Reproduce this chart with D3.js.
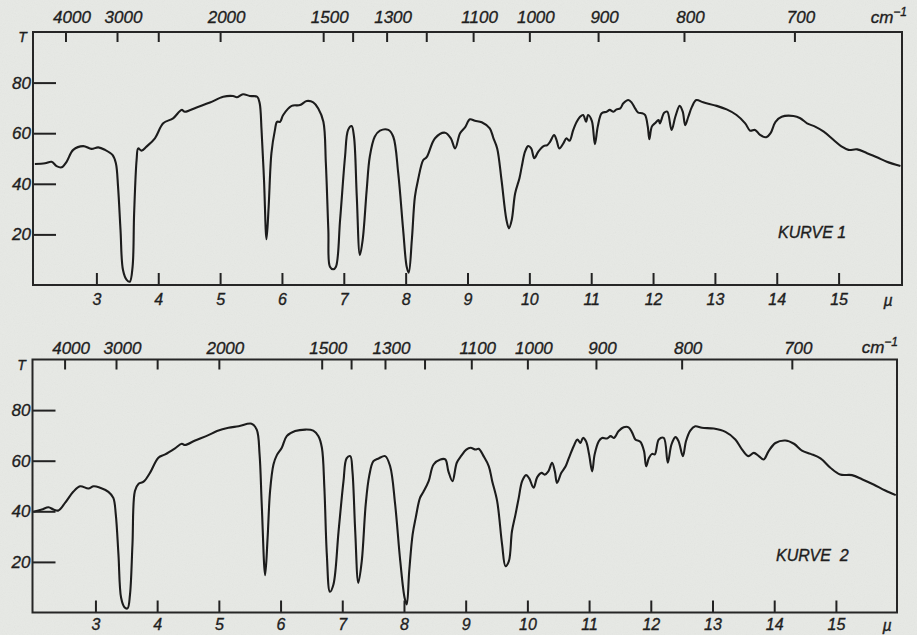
<!DOCTYPE html>
<html>
<head>
<meta charset="utf-8">
<script src="https://cdn.jsdelivr.net/npm/d3@7"></script>
<style>
  html, body { margin: 0; padding: 0; background: #e7e9e5; }
  svg { display: block; }
  .lbl { font-family: "Liberation Sans", Arial, sans-serif; font-style: italic; fill: #1e1e1e; stroke: #1e1e1e; stroke-width: 0.35px; }
</style>
</head>
<body>
<svg id="chart" width="917" height="635"></svg>
<script>
// Axis ticks
const wavelengthTicks = [3, 4, 5, 6, 7, 8, 9, 10, 11, 12, 13, 14, 15];
const wavenumberTicks = [4000, 3000, 2500, 2000, 1500, 1400, 1300, 1200, 1100, 1000, 900, 800, 700];
const wavenumberLabels = [4000, 3000, 2000, 1500, 1300, 1100, 1000, 900, 800, 700];
const transmissionTicks = [20, 40, 60, 80];
const curveNames = ["KURVE 1", "KURVE  2"];

// Curve 1: wavelength (µ) and transmission (%)
const curve1Wavelength = [2.005, 2.17, 2.275, 2.356, 2.437, 2.518, 2.625, 2.787, 2.92, 3.03, 3.14, 3.26, 3.315, 3.35, 3.39, 3.43, 3.49, 3.54, 3.585, 3.61, 3.65, 3.676, 3.73, 3.81, 3.946, 4.08, 4.24, 4.378, 4.43, 4.62, 4.836, 5.05, 5.21, 5.27, 5.37, 5.48, 5.6, 5.64, 5.67, 5.71, 5.75, 5.785, 5.83, 5.887, 5.92, 5.97, 6.02, 6.157, 6.29, 6.4, 6.506, 6.587, 6.67, 6.71, 6.75, 6.776, 6.83, 6.873, 6.94, 7.02, 7.07, 7.127, 7.165, 7.21, 7.26, 7.305, 7.37, 7.42, 7.5, 7.585, 7.72, 7.8, 7.88, 7.96, 8.017, 8.05, 8.1, 8.15, 8.2, 8.285, 8.34, 8.475, 8.636, 8.73, 8.8, 8.88, 8.96, 9.04, 9.12, 9.23, 9.36, 9.42, 9.48, 9.55, 9.63, 9.67, 9.715, 9.77, 9.84, 9.877, 9.93, 9.98, 10.03, 10.08, 10.145, 10.23, 10.29, 10.335, 10.4, 10.44, 10.485, 10.55, 10.6, 10.65, 10.71, 10.766, 10.82, 10.87, 10.917, 10.95, 11.01, 11.06, 11.106, 11.17, 11.25, 11.3, 11.36, 11.41, 11.47, 11.52, 11.6, 11.655, 11.71, 11.76, 11.82, 11.87, 11.915, 11.94, 11.98, 12.03, 12.09, 12.11, 12.18, 12.23, 12.3, 12.36, 12.43, 12.48, 12.52, 12.57, 12.63, 12.7, 12.81, 13.03, 13.19, 13.35, 13.49, 13.57, 13.65, 13.73, 13.83, 13.9, 13.98, 14.08, 14.27, 14.38, 14.49, 14.62, 14.76, 14.92, 15.05, 15.16, 15.3, 15.46, 15.62, 15.78, 16.0];
const curve1Transmission = [47.8, 48.1, 48.7, 47.0, 46.5, 48.7, 53.4, 54.9, 53.8, 54.4, 53.4, 51.4, 48.1, 38.9, 21.7, 5.9, 2.0, 1.3, 7.2, 28.3, 49.4, 54.0, 53.1, 54.7, 58.0, 63.9, 65.9, 69.2, 68.5, 70.2, 72.1, 74.4, 74.7, 74.2, 75.4, 74.7, 74.4, 71.8, 61.3, 41.5, 18.1, 30.9, 52.1, 61.3, 64.5, 64.5, 67.2, 70.8, 71.1, 72.7, 72.2, 69.8, 64.5, 48.1, 21.7, 7.2, 6.2, 7.2, 25.7, 50.7, 61.3, 62.8, 58.6, 34.9, 11.9, 17.8, 37.5, 50.7, 58.6, 61.0, 61.3, 58.6, 44.2, 21.7, 7.2, 4.9, 17.8, 34.9, 41.5, 49.4, 50.5, 58.0, 60.2, 58.0, 54.0, 60.0, 62.3, 65.5, 64.9, 64.3, 61.9, 58.0, 54.0, 41.5, 25.7, 22.4, 25.7, 36.2, 42.2, 46.8, 52.7, 54.9, 54.0, 50.1, 52.7, 54.9, 55.3, 56.6, 59.3, 57.3, 54.0, 56.0, 58.0, 57.0, 61.3, 64.5, 66.5, 67.2, 64.5, 67.2, 64.9, 55.7, 62.6, 67.9, 68.5, 69.2, 68.5, 69.4, 69.8, 71.8, 73.1, 72.1, 69.8, 68.1, 67.9, 67.2, 62.6, 57.6, 62.6, 63.9, 65.2, 63.9, 68.1, 68.5, 61.3, 66.5, 70.8, 68.5, 63.2, 66.5, 70.5, 73.1, 72.2, 70.8, 69.4, 67.2, 63.9, 61.0, 61.3, 59.3, 58.4, 60.0, 64.5, 66.5, 66.8, 65.9, 63.9, 62.6, 60.6, 57.3, 54.7, 53.4, 53.6, 52.1, 50.5, 48.7, 47.0];

// Curve 2: wavelength (µ) and transmission (%)
const curve2Wavelength = [1.995, 2.13, 2.24, 2.32, 2.4, 2.51, 2.64, 2.75, 2.887, 2.97, 3.076, 3.21, 3.29, 3.33, 3.373, 3.416, 3.47, 3.52, 3.56, 3.6, 3.64, 3.7, 3.78, 3.886, 4.02, 4.13, 4.29, 4.4, 4.45, 4.616, 4.83, 4.97, 5.156, 5.32, 5.53, 5.614, 5.66, 5.695, 5.75, 5.79, 5.83, 5.885, 5.94, 6.02, 6.1, 6.236, 6.4, 6.53, 6.614, 6.67, 6.71, 6.75, 6.8, 6.857, 6.94, 7.02, 7.07, 7.13, 7.165, 7.21, 7.26, 7.316, 7.38, 7.436, 7.505, 7.59, 7.695, 7.776, 7.857, 7.94, 8.01, 8.045, 8.085, 8.14, 8.19, 8.26, 8.316, 8.4, 8.48, 8.59, 8.67, 8.72, 8.786, 8.856, 8.93, 9.01, 9.08, 9.16, 9.21, 9.29, 9.375, 9.43, 9.51, 9.59, 9.645, 9.7, 9.75, 9.807, 9.86, 9.915, 9.98, 10.03, 10.1, 10.16, 10.23, 10.28, 10.34, 10.4, 10.445, 10.48, 10.55, 10.62, 10.67, 10.75, 10.81, 10.86, 10.9, 10.95, 11.0, 11.05, 11.09, 11.157, 11.21, 11.29, 11.35, 11.4, 11.48, 11.56, 11.64, 11.7, 11.75, 11.83, 11.89, 11.925, 11.97, 12.02, 12.065, 12.13, 12.21, 12.275, 12.335, 12.4, 12.45, 12.52, 12.57, 12.64, 12.72, 12.83, 13.02, 13.21, 13.37, 13.48, 13.58, 13.67, 13.75, 13.83, 13.91, 14.02, 14.18, 14.32, 14.45, 14.59, 14.75, 14.91, 15.07, 15.26, 15.43, 15.61, 15.8, 15.97];
const curve2Transmission = [39.8, 40.7, 41.6, 40.7, 40.3, 43.4, 47.7, 49.9, 49.0, 49.9, 49.3, 47.7, 45.3, 38.7, 22.9, 5.8, 2.1, 1.6, 7.1, 26.9, 48.0, 50.9, 51.7, 55.3, 61.2, 62.5, 64.9, 66.7, 66.2, 68.0, 70.1, 71.7, 73.0, 73.6, 74.6, 72.3, 62.5, 42.7, 14.7, 29.5, 48.0, 58.5, 62.2, 65.1, 69.7, 71.7, 72.3, 71.9, 69.7, 65.1, 49.3, 22.9, 8.2, 11.1, 32.1, 51.9, 60.9, 61.8, 55.8, 32.1, 11.7, 20.3, 42.7, 53.9, 59.8, 60.9, 61.8, 57.8, 42.7, 20.3, 5.8, 3.2, 16.3, 30.8, 37.4, 45.3, 47.7, 51.9, 58.5, 60.5, 60.5, 55.8, 51.9, 59.2, 62.0, 64.4, 65.1, 64.4, 64.7, 61.8, 57.8, 51.9, 44.0, 26.9, 18.3, 20.3, 32.1, 38.7, 45.3, 51.9, 54.3, 53.0, 49.3, 53.5, 55.2, 54.5, 55.8, 59.2, 55.8, 51.2, 55.2, 57.8, 60.9, 65.7, 68.4, 67.0, 69.0, 67.7, 62.5, 55.8, 62.5, 67.7, 69.0, 68.8, 69.7, 69.0, 71.7, 73.2, 73.2, 71.0, 68.4, 67.5, 63.8, 57.8, 61.1, 62.7, 62.5, 68.4, 69.0, 59.2, 66.4, 69.3, 67.7, 61.8, 67.7, 71.9, 73.6, 73.0, 72.7, 71.4, 68.4, 64.4, 61.8, 63.1, 61.8, 60.5, 63.8, 67.0, 68.0, 66.7, 64.0, 62.7, 60.9, 57.2, 54.5, 54.3, 52.6, 50.6, 48.2, 46.4];

const curves = [
  curve1Wavelength.map((w, i) => [w, curve1Transmission[i]]),
  curve2Wavelength.map((w, i) => [w, curve2Transmission[i]])
];

// Frame geometry of the two spectra
const panels = [
  { left: 33, right: 902, top: 32, bottom: 285, mu: [1.975, 16.025],
    topPad: 9, bottomPad: 9, tPos: [22.5, 42], cmPos: [907, 23], muPos: [888, 306], namePos: [778, 238] },
  { left: 32.5, right: 897, top: 359.5, bottom: 612.5, mu: [1.98, 15.99],
    topPad: 6, bottomPad: 6, tPos: [21.5, 370], cmPos: [898, 353], muPos: [887, 631], namePos: [776, 561] }
];

const svg = d3.select("#chart");

// paper grain
const defs = svg.append("defs");
const grain = defs.append("filter").attr("id", "grain").attr("x", 0).attr("y", 0).attr("width", "100%").attr("height", "100%");
grain.append("feTurbulence").attr("type", "fractalNoise").attr("baseFrequency", 0.9).attr("numOctaves", 2).attr("seed", 4);
grain.append("feColorMatrix").attr("type", "saturate").attr("values", 0);

svg.append("rect").attr("width", 917).attr("height", 635).attr("fill", "#e7e9e5");
svg.append("rect").attr("width", 917).attr("height", 635).attr("filter", "url(#grain)").attr("opacity", 0.07);

panels.forEach((p, i) => {
  const x = d3.scaleLinear().domain(p.mu).range([p.left, p.right]);
  const y = d3.scaleLinear().domain([0, 100]).range([p.bottom, p.top]);
  const g = svg.append("g");

  const clipId = "clip" + i;
  defs.append("clipPath").attr("id", clipId).append("rect")
    .attr("x", p.left).attr("y", p.top - 5).attr("width", p.right - p.left).attr("height", p.bottom - p.top + 10);

  // spectrum trace
  const line = d3.line().x(d => x(d[0])).y(d => y(d[1])).curve(d3.curveCatmullRom.alpha(0.5));
  g.append("path").datum(curves[i])
    .attr("clip-path", `url(#${clipId})`)
    .attr("fill", "none").attr("stroke", "#1c1c1c").attr("stroke-width", 2.1)
    .attr("stroke-linejoin", "round").attr("d", line);

  // wavelength axis (bottom)
  const bottomAxis = d3.axisBottom(x).tickValues(wavelengthTicks).tickSize(-12)
    .tickPadding(p.bottomPad).tickFormat(d3.format("d"));
  const gb = g.append("g").attr("transform", `translate(0,${p.bottom})`).call(bottomAxis);

  // wavenumber axis (top)
  const topAxis = d3.axisTop(x).tickValues(wavenumberTicks.map(n => 10000 / n)).tickSize(-10)
    .tickPadding(p.topPad)
    .tickFormat(m => { const n = Math.round(10000 / m); return wavenumberLabels.includes(n) ? n : ""; });
  const gt = g.append("g").attr("transform", `translate(0,${p.top})`).call(topAxis);
  gt.selectAll(".tick text").attr("dx", 6);

  // transmission axis (left)
  const leftAxis = d3.axisLeft(y).tickValues(transmissionTicks).tickSize(-23).tickPadding(2);
  const gl = g.append("g").attr("transform", `translate(${p.left},0)`).call(leftAxis);

  [gb, gt, gl].forEach(a => {
    a.select(".domain").remove();
    a.selectAll(".tick line").attr("stroke", "#222").attr("stroke-width", 2);
    a.selectAll(".tick text").attr("class", "lbl").attr("font-size", 17).attr("fill", "#1e1e1e");
  });
  gb.selectAll(".tick text").attr("font-size", 16);

  // frame
  g.append("path")
    .attr("d", `M${p.left},${p.bottom}V${p.top}H${p.right}V${p.bottom}H${p.left}Z`)
    .attr("fill", "none").attr("stroke", "#262626").attr("stroke-width", 2);

  // axis captions
  g.append("text").attr("class", "lbl").attr("x", p.tPos[0]).attr("y", p.tPos[1])
    .attr("text-anchor", "middle").attr("font-size", 14).text("T");
  const cm = g.append("text").attr("class", "lbl").attr("x", p.cmPos[0]).attr("y", p.cmPos[1])
    .attr("text-anchor", "end").attr("font-size", 17);
  cm.append("tspan").text("cm");
  cm.append("tspan").attr("dy", -7).attr("font-size", 12).text("−1");
  g.append("text").attr("class", "lbl").attr("x", p.muPos[0]).attr("y", p.muPos[1])
    .attr("text-anchor", "middle").attr("font-size", 16).text("µ");
  g.append("text").attr("class", "lbl").attr("x", p.namePos[0]).attr("y", p.namePos[1])
    .attr("font-size", 16).style("white-space", "pre").text(curveNames[i]);
});
</script>
</body>
</html>
